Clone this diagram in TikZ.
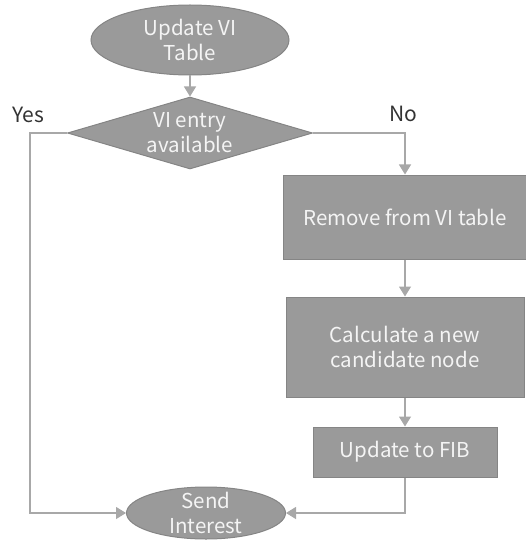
\documentclass[tikz,border=0pt]{standalone}
\usepackage{fontspec}
\setmainfont{Noto Sans CJK JP}
\usetikzlibrary{shapes.geometric,arrows.meta}
\definecolor{boxfill}{HTML}{9A9A9A}
\definecolor{boxline}{HTML}{858585}
\definecolor{flowline}{HTML}{A8A8A8}
\definecolor{boxtext}{HTML}{F4F4F4}
\definecolor{labeltext}{HTML}{333333}
\tikzset{
  base/.style={fill=boxfill, draw=boxline, line width=1pt, text=boxtext, align=center, inner sep=0pt,
    font=\fontsize{20.5}{25}\selectfont},
  term/.style={base, ellipse, inner ysep=-5pt},
  decide/.style={base, diamond, aspect=3.4},
  stepbox/.style={base, rectangle},
  flow/.style={draw=flowline, line width=1.2pt, -{Triangle[width=12pt,length=10pt]}},
  answer/.style={text=labeltext, font=\fontsize{21}{25}\selectfont}
}
\begin{document}
\begin{tikzpicture}[x=1pt,y=-1pt]
                \useasboundingbox (0,0) rectangle (526,540);
                \node[term, minimum width=198pt, minimum height=70pt] (start) at (190,40) {Update VI\\Table};
                \node[decide, minimum width=245pt, minimum height=72pt] (check) at (190,133) {VI entry\\available};
                \node[stepbox, minimum width=243pt, minimum height=84pt] (remove) at (405,217) {Remove from VI table};
                \node[stepbox, minimum width=238pt, minimum height=100pt] (calc) at (405,347) {Calculate a new\\candidate node};
                \node[stepbox, minimum width=184pt, minimum height=50pt] (fib) at (405,452) {Update to FIB};
                \node[term, minimum width=159pt, minimum height=52pt] (send) at (206,513) {Send\\Interest};

                % branch labels
                \node[answer] (yes) at (28,115) {Yes};
                \node[answer] (no) at (403,114) {No};

                \coordinate (yesbend) at (30,133);
                \draw[flow] (start) -- (check);
                \draw[flow] (check.east) -| (remove.north);
                \draw[flow] (check.west) -- (yesbend) |- (send.west);
                \draw[flow] (remove) -- (calc);
                \draw[flow] (calc) -- (fib);
                \draw[flow] (fib.south) |- (send.east);
            \end{tikzpicture}
\end{document}
